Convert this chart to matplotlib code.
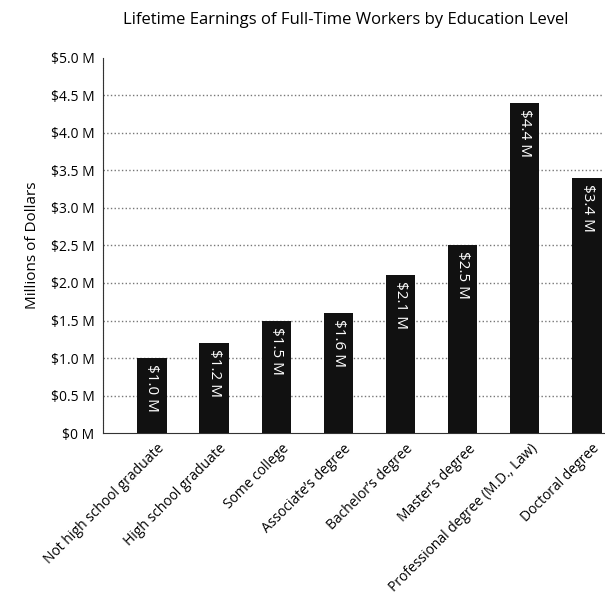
import matplotlib
matplotlib.use("Agg")
from matplotlib import pyplot as plt
import numpy as np

levels = ["Not high school graduate", "High school graduate", "Some college",
          "Associate\u2019s degree", "Bachelor\u2019s degree", "Master\u2019s degree",
          "Professional degree (M.D., Law)", "Doctoral degree"]
earnings = [1.0, 1.2, 1.5, 1.6, 2.1, 2.5, 4.4, 3.4]
bar_labels = ["$1.0 M", "$1.2 M", "$1.5 M", "$1.6 M", "$2.1 M", "$2.5 M", "$4.4 M", "$3.4 M"]
yticks = [0, 0.5, 1.0, 1.5, 2.0, 2.5, 3.0, 3.5, 4.0, 4.5, 5.0]
ytick_labels = ["$0 M", "$0.5 M", "$1.0 M", "$1.5 M", "$2.0 M", "$2.5 M",
                "$3.0 M", "$3.5 M", "$4.0 M", "$4.5 M", "$5.0 M"]

plt.rcParams['font.family'] = ['Open Sans', 'DejaVu Sans']

fig = plt.figure(figsize=(6.05, 6.16), dpi=100)
ax = fig.add_axes([0.170, 0.297, 0.828, 0.609])

x = np.arange(len(levels))
ax.bar(x, earnings, width=0.47, color="#111111", zorder=3)

# value labels run down inside each bar
for xi, v, lab in zip(x, earnings, bar_labels):
    ax.text(xi, v - 0.08, lab, rotation=-90, ha="center", va="top",
            color="white", fontsize=11, zorder=4)

ax.set_ylim(0, 5.0)
ax.set_xlim(-0.79, 7.27)
ax.set_yticks(yticks)
ax.set_yticklabels(ytick_labels, fontsize=10)
ax.set_xticks(x + 0.08)
ax.set_xticklabels(levels, rotation=45, ha="right", rotation_mode="anchor", fontsize=10)
ax.tick_params(axis="both", length=0, pad=6)

for yv in yticks[1:-1]:
    ax.axhline(yv, color="#777777", linestyle=":", linewidth=1, zorder=1)

for s in ["top", "right"]:
    ax.spines[s].set_visible(False)
ax.spines["left"].set_linestyle((0, (1, 0.5)))
ax.spines["left"].set_color("#333333")
ax.spines["bottom"].set_color("#333333")

ax.set_ylabel("Millions of Dollars", fontsize=11, labelpad=8)
fig.text(0.572, 0.967, "Lifetime Earnings of Full-Time Workers by Education Level",
         ha="center", va="center", fontsize=12)

plt.savefig("out.png", dpi=100)
